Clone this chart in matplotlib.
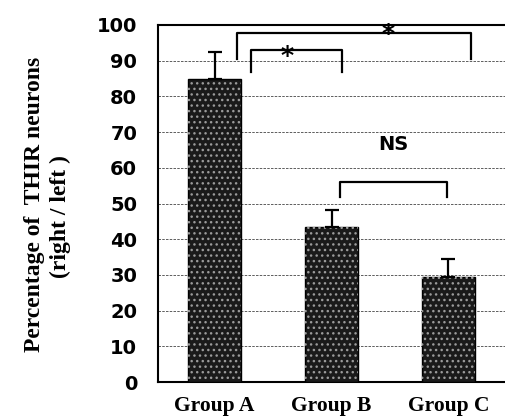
import matplotlib
matplotlib.use("Agg")
import matplotlib.pyplot as plt
import numpy as np

groups = ["Group A", "Group B", "Group C"]
values = [84.9, 43.4, 29.4]
errors = [7.5, 4.8, 5.1]
yticks = [0, 10, 20, 30, 40, 50, 60, 70, 80, 90, 100]
ylabel_lines = ["Percentage of  THIR neurons", "(right / left )"]
# brackets: (x_left, x_right, y_top, y_leg_bottom, label, label_x, label_y)
brackets = [
    (0.31, 1.09, 93.0, 86.8, "*", 0.62, 91.3),
    (0.19, 2.19, 97.8, 90.6, "*", 1.48, 97.4),
    (1.07, 1.99, 56.0, 51.8, "NS", 1.53, 66.4),
]

fig = plt.figure(figsize=(5.05, 4.16), dpi=100)
ax = fig.add_axes([158 / 505, 1 - 382 / 416, (505 - 158) / 505, (382 - 25) / 416])

x = np.arange(len(groups))
ax.bar(x, values, width=0.45, color="#1a1a1a", edgecolor="#000000", linewidth=1.0, zorder=3)
ax.bar(x, values, width=0.45, color="none", edgecolor="#9a9a9a", linewidth=0, hatch="...", zorder=3.5)
ax.errorbar(x, values, yerr=[np.zeros(len(values)), errors], fmt="none", ecolor="black",
            elinewidth=1.6, capsize=5, capthick=1.6, zorder=4)

ax.set_xlim(-0.485, 2.485)
ax.set_ylim(0, 100)
ax.set_yticks(yticks)
ax.set_yticklabels([str(t) for t in yticks], fontfamily="DejaVu Sans", fontweight="bold", fontsize=14)
ax.tick_params(axis="y", length=0, pad=15)
ax.set_xticks(x)
ax.set_xticklabels(groups, fontfamily="Liberation Serif", fontweight="bold", fontsize=15.5)
ax.tick_params(axis="x", length=0, pad=10)

for t in yticks[1:-1]:
    ax.axhline(t, color="#444444", linewidth=0.6, linestyle=(0, (3, 1.5)), zorder=1)

for s in ["left", "bottom", "top"]:
    ax.spines[s].set_linewidth(1.5)
ax.spines["right"].set_visible(False)

for xl, xr, yt, yb, lab, lx, ly in brackets:
    ax.plot([xl, xl, xr, xr], [yb, yt, yt, yb], color="black", linewidth=1.6, zorder=5,
            clip_on=False)
    if lab == "*":
        ax.text(lx, ly, lab, ha="center", va="center", fontsize=18, fontweight="bold",
                fontfamily="DejaVu Sans", zorder=6)
    else:
        ax.text(lx, ly, lab, ha="center", va="center", fontsize=14, fontweight="bold",
                fontfamily="DejaVu Sans", zorder=6)

fig.text(35 / 505, 1 - 204 / 416, ylabel_lines[0], rotation=90, ha="center", va="center",
         fontfamily="Liberation Serif", fontweight="bold", fontsize=17)
fig.text(60 / 505, 1 - 217 / 416, ylabel_lines[1], rotation=90, ha="center", va="center",
         fontfamily="Liberation Serif", fontweight="bold", fontsize=17)

fig.savefig("out.png", dpi=100)
